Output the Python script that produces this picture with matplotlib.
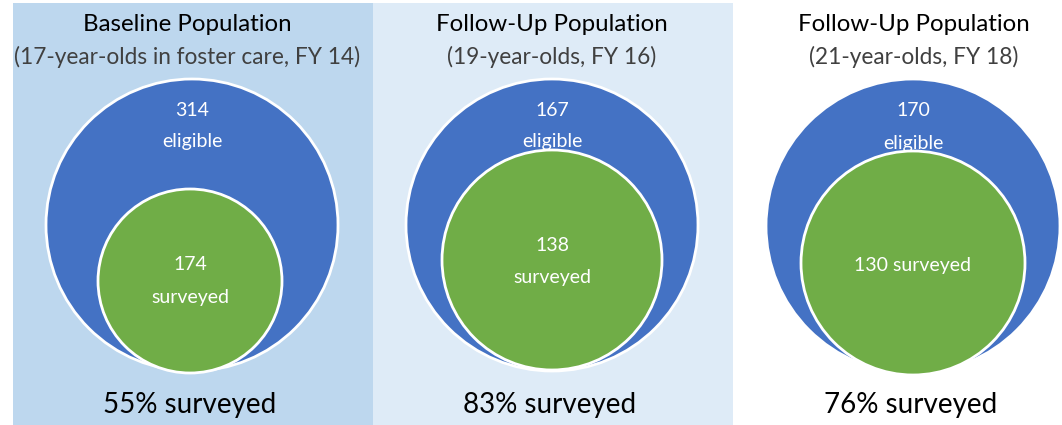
import matplotlib.pyplot as plt
from matplotlib.patches import Circle, Rectangle

# data
titles = ['Baseline Population', 'Follow-Up Population', 'Follow-Up Population']
subtitles = ['(17-year-olds in foster care, FY 14)', '(19-year-olds, FY 16)', '(21-year-olds, FY 18)']
eligible = [314, 167, 170]
surveyed = [174, 138, 130]
pct_surveyed = [55, 83, 76]

# layout (pixels), circles drawn per panel
centers_x = [192, 552, 913]
title_x = [187, 552, 914]
panel_bg = ['#BDD7EE', '#DEEBF7', 'white']
panel_x = [(13, 373), (373, 733), (733, 1062)]
outer_r = [146, 146, 147]
outer_cy = [225, 225, 226]
inner_r = [92, 110, 112]
inner_cx = [190, 552, 913]
inner_cy = [281, 260, 263]
eligible_y = [(110, 141), (110, 141), (110, 143)]
surveyed_y = [(265, 297), (245, 277), (265, None)]

BLUE = '#4472C4'
GREEN = '#70AD47'
FONT = 'Lato'
INNER_FS = 14

fig = plt.figure(figsize=(10.62, 4.25), dpi=100)
ax = fig.add_axes([0, 0, 1, 1])
ax.set_xlim(0, 1062)
ax.set_ylim(425, 0)
ax.set_aspect('equal')
ax.axis('off')

for i in range(3):
    x0, x1 = panel_x[i]
    ax.add_patch(Rectangle((x0, 3), x1 - x0, 425, facecolor=panel_bg[i], edgecolor='none', zorder=0))

    ax.add_patch(Circle((centers_x[i], outer_cy[i]), outer_r[i], facecolor=BLUE,
                        edgecolor='white', linewidth=2, zorder=1))
    ax.add_patch(Circle((inner_cx[i], inner_cy[i]), inner_r[i], facecolor=GREEN,
                        edgecolor='white', linewidth=2, zorder=3))

    ax.text(title_x[i], 24, titles[i], ha='center', va='center',
            fontsize=17.3, family=FONT, color='black')
    ax.text(title_x[i], 57, subtitles[i], ha='center', va='center',
            fontsize=16.3, family=FONT, color='#404040')

    ey1, ey2 = eligible_y[i]
    ax.text(centers_x[i], ey1, str(eligible[i]), ha='center', va='center',
            fontsize=INNER_FS, family=FONT, color='white', zorder=2)
    ax.text(centers_x[i], ey2, 'eligible', ha='center', va='center',
            fontsize=INNER_FS, family=FONT, color='white', zorder=4)

    sy1, sy2 = surveyed_y[i]
    if sy2 is None:
        ax.text(inner_cx[i], sy1, '%d surveyed' % surveyed[i], ha='center', va='center',
                fontsize=INNER_FS, family=FONT, color='white', zorder=4)
    else:
        ax.text(inner_cx[i], sy1, str(surveyed[i]), ha='center', va='center',
                fontsize=INNER_FS, family=FONT, color='white', zorder=4)
        ax.text(inner_cx[i], sy2, 'surveyed', ha='center', va='center',
                fontsize=INNER_FS, family=FONT, color='white', zorder=4)

    ax.text(centers_x[i] - 2, 405, '%d%% surveyed' % pct_surveyed[i], ha='center', va='center',
            fontsize=20, family=FONT, color='black')

fig.savefig('out.png', dpi=100)
